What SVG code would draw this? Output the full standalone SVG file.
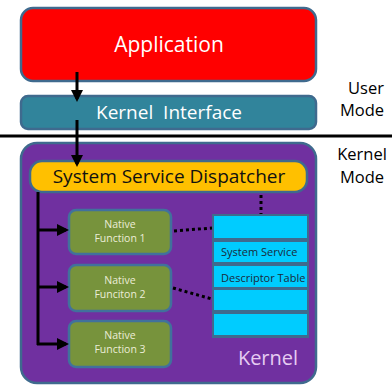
<svg xmlns="http://www.w3.org/2000/svg" width="392" height="385" viewBox="0 0 392 385">
  <style>
    text { font-family: "Malgun Gothic", "Open Sans", "Noto Sans", "DejaVu Sans", sans-serif; }
    .box { stroke: #3F6A8E; stroke-width: 2.5; }
    .nf { fill: #77933C; stroke: #41719C; stroke-width: 2.5; }
    .nft { fill: #ECEDD8; font-size: 10.5px; text-anchor: middle; }
    .row { fill: #00CCFF; stroke: #3F6A8E; stroke-width: 2; }
    .rowt { fill: #1A2A3A; font-size: 11px; }
    .solid { stroke: #000; stroke-width: 3; fill: none; }
    .dot { stroke: #000; stroke-width: 3; stroke-dasharray: 3 3; fill: none; }
    .mode { fill: #000; font-size: 16.5px; }
  </style>
  <defs>
    <marker id="ah" markerWidth="4" markerHeight="4" refX="3" refY="2" orient="auto" markerUnits="strokeWidth">
      <path d="M0,0 L4,2 L0,4 z" fill="#000"/>
    </marker>
  </defs>
  <rect width="392" height="385" fill="#fff"/>

  <g id="application">
    <rect class="box" x="21" y="8" width="295" height="73" rx="12" fill="#FF0000"/>
    <text x="169" y="52" font-size="21" fill="#fff" text-anchor="middle">Application</text>
  </g>

  <g id="kernel-interface">
    <rect class="box" x="21" y="96" width="295" height="33" rx="7" fill="#31849B"/>
    <text x="169" y="119" font-size="19" fill="#fff" text-anchor="middle" xml:space="preserve">Kernel  Interface</text>
  </g>

  <g id="mode-divider">
    <line x1="0" y1="136" x2="392" y2="136" stroke="#000" stroke-width="3"/>
    <text class="mode" x="366" y="94" text-anchor="middle">User</text>
    <text class="mode" x="362" y="116" text-anchor="middle">Mode</text>
    <text class="mode" x="362" y="160" text-anchor="middle">Kernel</text>
    <text class="mode" x="362" y="183" text-anchor="middle">Mode</text>
  </g>

  <g id="kernel">
    <rect class="box" x="21" y="143" width="295" height="240" rx="16" fill="#7030A0"/>
    <text x="268" y="365" font-size="20" fill="#E6CCF2" text-anchor="middle">Kernel</text>
  </g>

  <g id="dispatcher">
    <rect class="box" x="30" y="161" width="277" height="31" rx="12" fill="#FFC000"/>
    <text x="169" y="183" font-size="19" fill="#111" text-anchor="middle">System Service Dispatcher</text>
  </g>

  <g id="native-function-1">
    <rect class="nf" x="69" y="210" width="102" height="44" rx="7"/>
    <text class="nft" x="120" y="228">Native</text>
    <text class="nft" x="120" y="242">Function 1</text>
  </g>
  <g id="native-function-2">
    <rect class="nf" x="69" y="265" width="102" height="46" rx="7"/>
    <text class="nft" x="120" y="284">Native</text>
    <text class="nft" x="120" y="298">Funciton 2</text>
  </g>
  <g id="native-function-3">
    <rect class="nf" x="69" y="321" width="102" height="46" rx="7"/>
    <text class="nft" x="120" y="339">Native</text>
    <text class="nft" x="120" y="353">Function 3</text>
  </g>

  <g id="descriptor-table">
    <rect x="212" y="214" width="97" height="124" fill="#3F6A8E"/>
    <rect class="row" x="213" y="215" width="95" height="24"/>
    <rect class="row" x="213" y="241" width="95" height="22"/>
    <rect class="row" x="213" y="265" width="95" height="23"/>
    <rect class="row" x="213" y="289" width="95" height="22"/>
    <rect class="row" x="213" y="313" width="95" height="23"/>
    <text class="rowt" x="221" y="256">System Service</text>
    <text class="rowt" x="221" y="282">Descriptor Table</text>
  </g>

  <g id="connectors">
    <line class="solid" x1="77" y1="72" x2="77" y2="99" marker-end="url(#ah)"/>
    <line class="solid" x1="77" y1="120" x2="77" y2="164" marker-end="url(#ah)"/>
    <path class="solid" d="M38,192 V345"/>
    <line class="solid" x1="37" y1="230" x2="66" y2="230" marker-end="url(#ah)"/>
    <line class="solid" x1="37" y1="287" x2="66" y2="287" marker-end="url(#ah)"/>
    <line class="solid" x1="37" y1="344" x2="66" y2="344" marker-end="url(#ah)"/>
    <line class="dot" x1="261" y1="195" x2="261" y2="214"/>
    <line class="dot" x1="174" y1="231" x2="212" y2="228"/>
    <line class="dot" x1="173" y1="288" x2="212" y2="299"/>
  </g>
</svg>
